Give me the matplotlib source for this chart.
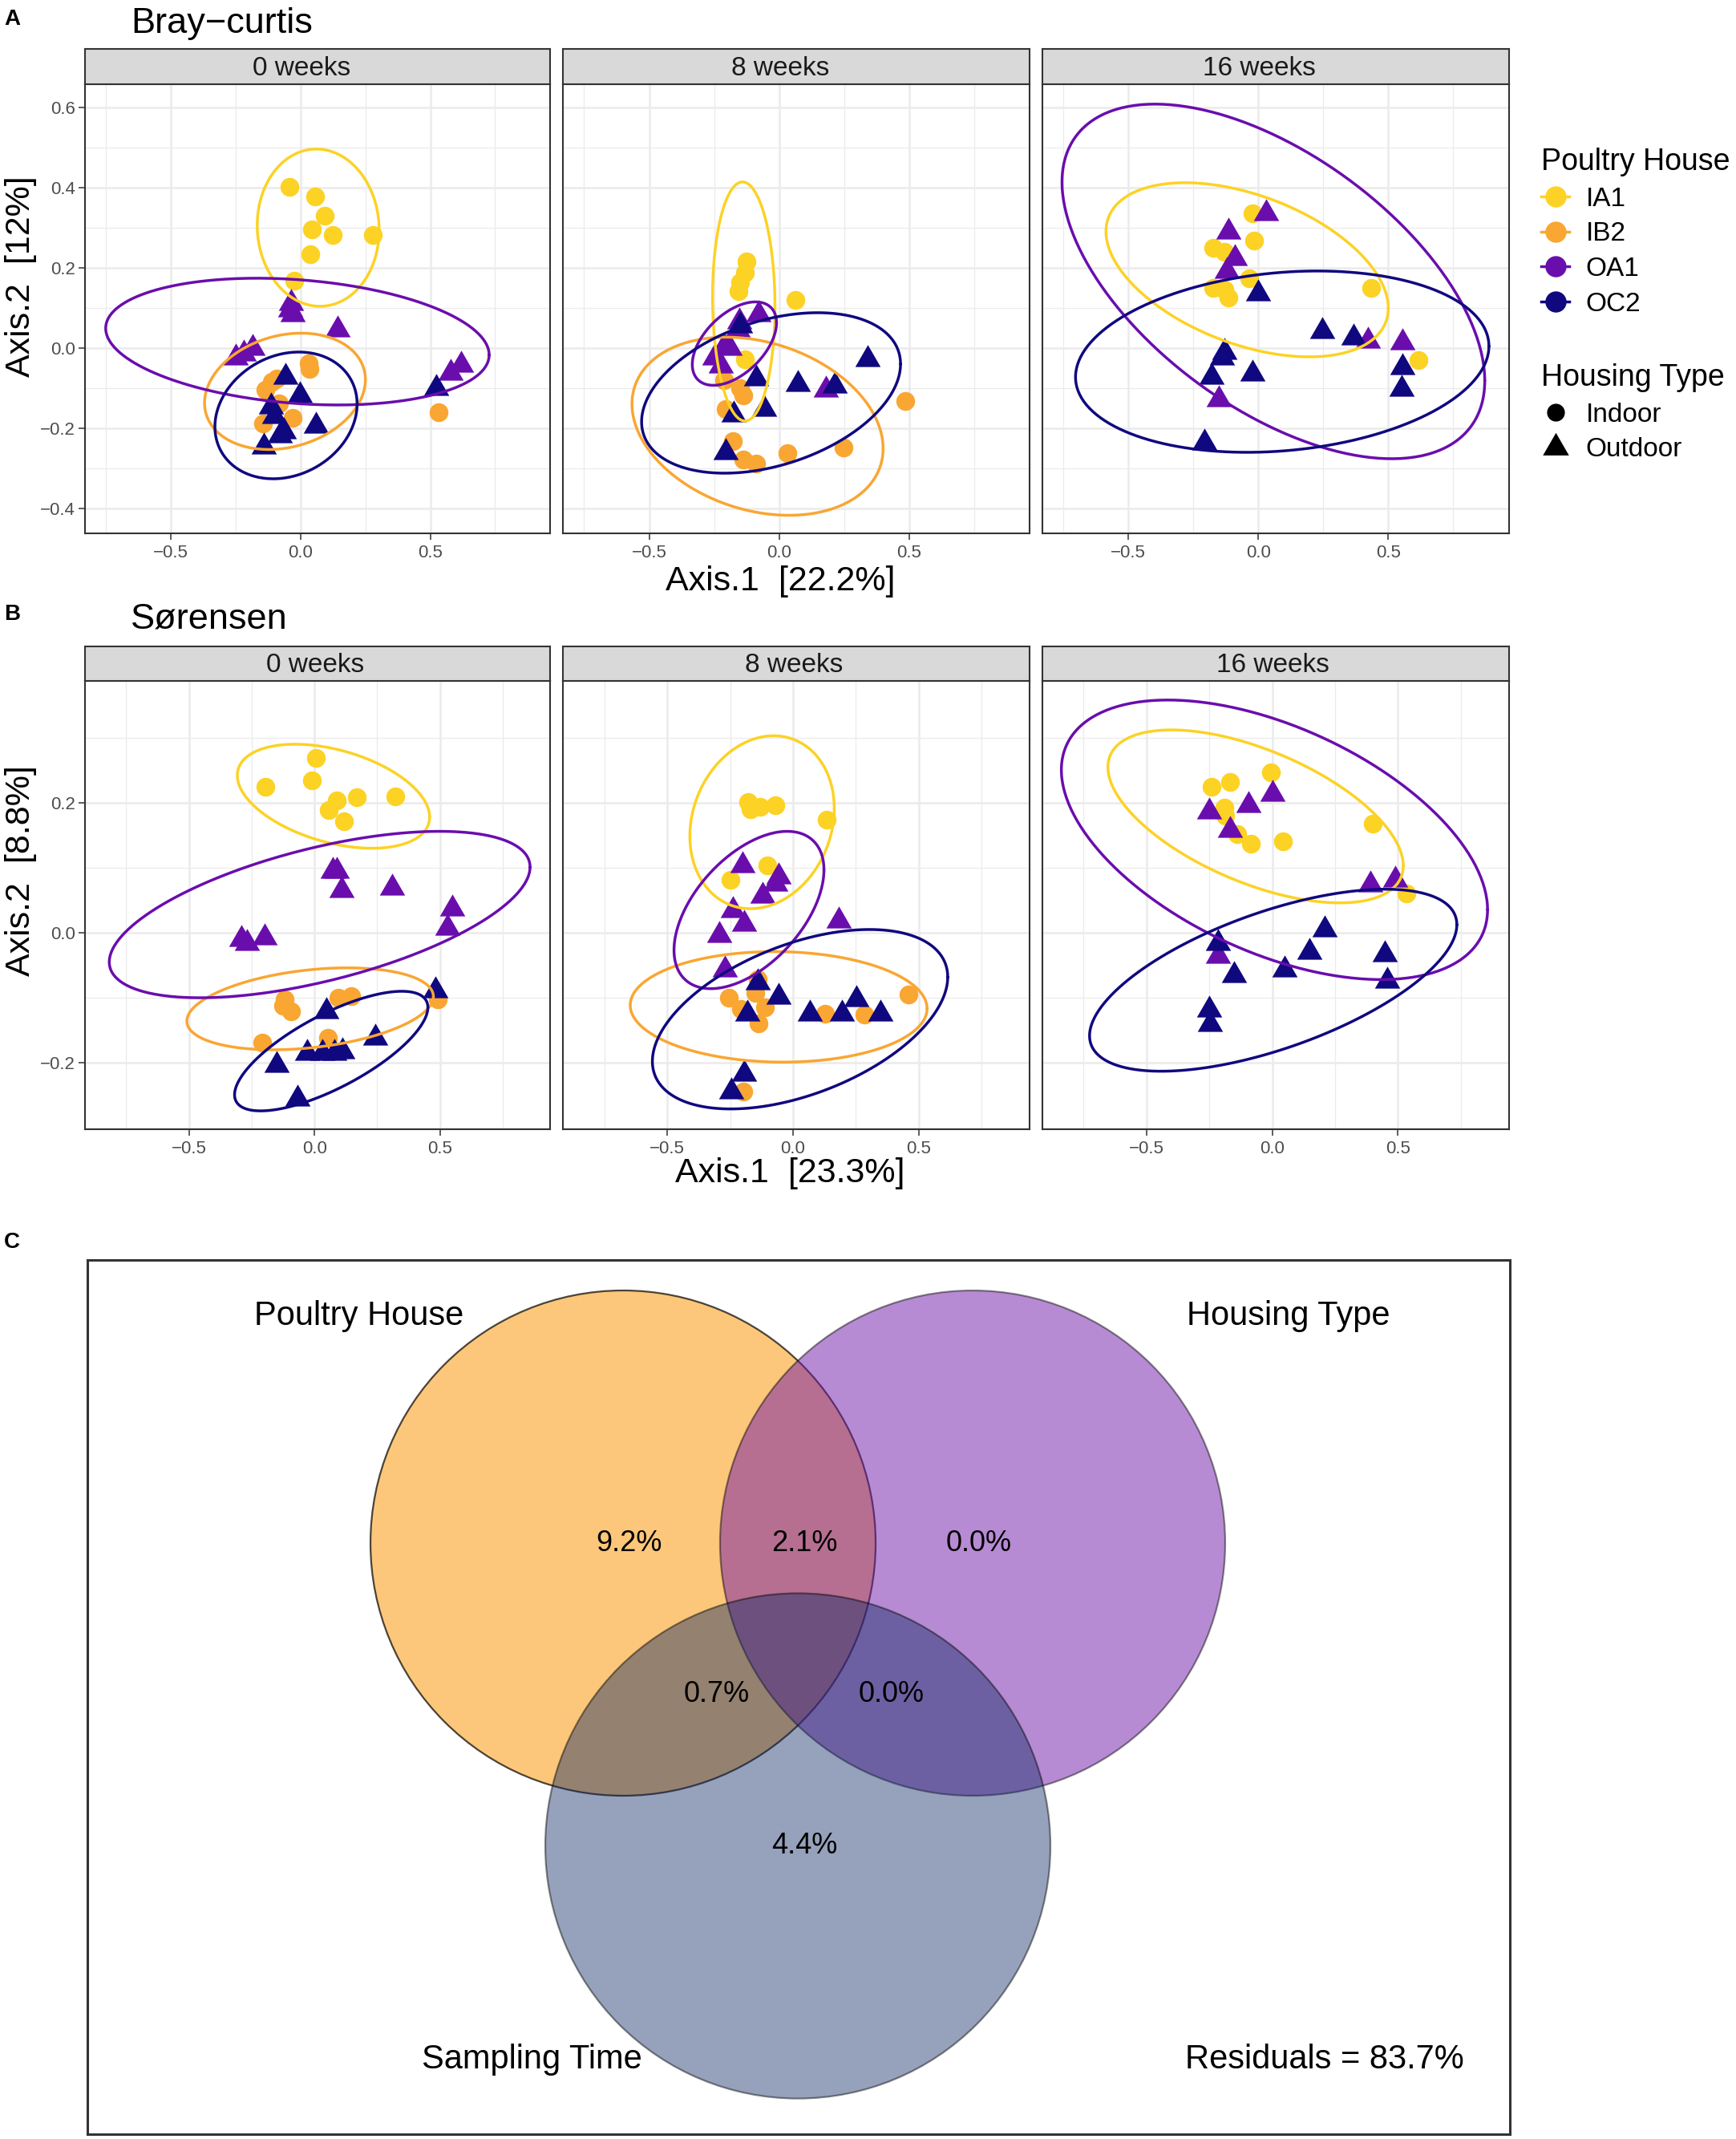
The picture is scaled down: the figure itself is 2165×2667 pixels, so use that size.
import numpy as np
import matplotlib
matplotlib.use('Agg')
import matplotlib.pyplot as plt
from matplotlib.lines import Line2D
from matplotlib.patches import Circle

plt.rcParams['font.family'] = ['Liberation Sans', 'DejaVu Sans']

W, H = 2165, 2667

houses = ['IA1', 'IB2', 'OA1', 'OC2']
house_colours = ['#FCD225', '#F9A632', '#6A0DAD', '#10087F']
indoor = ['IA1', 'IB2']
weeks = ['0 weeks', '8 weeks', '16 weeks']
housing_types = ['Indoor', 'Outdoor']

# ---- Bray-curtis PCoA scores (Axis.1, Axis.2) ----
bray_w0_IA1 = [(-0.044, 0.402), (0.055, 0.378), (0.093, 0.329), (0.045, 0.295),
               (0.123, 0.281), (0.278, 0.281), (0.038, 0.234), (-0.023, 0.167)]
bray_w0_IB2 = [(0.031, -0.039), (0.034, -0.053), (-0.093, -0.076), (-0.110, -0.085),
               (-0.136, -0.105), (-0.082, -0.138), (-0.030, -0.175), (-0.146, -0.188),
               (0.531, -0.161)]
bray_w0_OA1 = [(-0.037, 0.112), (-0.040, 0.095), (-0.030, 0.084), (0.144, 0.046),
               (-0.185, -0.001), (-0.220, -0.015), (-0.250, -0.025), (0.620, -0.043),
               (0.578, -0.062)]
bray_w0_OC2 = [(0.522, -0.100), (-0.058, -0.072), (-0.001, -0.119), (-0.115, -0.147),
               (-0.100, -0.171), (-0.065, -0.208), (-0.080, -0.218), (0.059, -0.194),
               (-0.143, -0.246)]

bray_w8_IA1 = [(-0.126, 0.216), (-0.132, 0.188), (-0.150, 0.164), (-0.156, 0.142),
               (0.064, 0.119), (-0.132, -0.029)]
bray_w8_IB2 = [(-0.211, -0.081), (-0.150, -0.100), (-0.138, -0.119), (-0.205, -0.152),
               (0.485, -0.133), (-0.177, -0.232), (-0.138, -0.279), (-0.089, -0.289),
               (0.033, -0.263), (0.247, -0.249)]
bray_w8_OA1 = [(-0.079, 0.084), (-0.153, 0.065), (-0.160, 0.045), (-0.211, 0.004),
               (-0.190, 0.000), (-0.248, -0.025), (-0.225, -0.045), (0.180, -0.105)]
bray_w8_OC2 = [(-0.150, 0.056), (-0.089, -0.076), (0.341, -0.029), (0.072, -0.091),
               (0.214, -0.095), (-0.059, -0.152), (-0.175, -0.166), (-0.205, -0.260)]

bray_w16_IA1 = [(-0.022, 0.336), (-0.017, 0.268), (-0.172, 0.249), (-0.129, 0.240),
                (-0.034, 0.174), (-0.172, 0.150), (-0.129, 0.145), (-0.116, 0.126),
                (0.434, 0.150), (0.616, -0.031)]
bray_w16_OA1 = [(0.029, 0.336), (-0.116, 0.290), (-0.091, 0.223), (-0.121, 0.192),
                (0.422, 0.018), (0.555, 0.013), (-0.152, -0.128)]
bray_w16_OC2 = [(0.000, 0.136), (0.247, 0.042), (0.366, 0.025), (-0.129, -0.010),
                (-0.141, -0.025), (-0.181, -0.072), (-0.021, -0.065), (0.555, -0.048),
                (0.552, -0.103), (-0.207, -0.237)]

# ---- Sorensen PCoA scores ----
sor_w0_IA1 = [(0.006, 0.269), (-0.194, 0.225), (-0.011, 0.235), (0.088, 0.204),
              (0.057, 0.189), (0.117, 0.172), (0.170, 0.208), (0.321, 0.210)]
sor_w0_IB2 = [(-0.118, -0.103), (-0.126, -0.112), (-0.094, -0.121), (0.096, -0.100),
              (0.146, -0.098), (0.491, -0.103), (0.053, -0.162), (-0.208, -0.169)]
sor_w0_OA1 = [(0.074, 0.095), (0.090, 0.095), (0.107, 0.066), (0.310, 0.069),
              (0.548, 0.037), (0.531, 0.008), (-0.290, -0.010), (-0.268, -0.016),
              (-0.197, -0.007)]
sor_w0_OC2 = [(0.481, -0.089), (0.049, -0.121), (-0.029, -0.185), (0.031, -0.185),
              (0.081, -0.185), (0.110, -0.182), (0.243, -0.162), (-0.151, -0.203),
              (-0.068, -0.255)]

sor_w8_IA1 = [(-0.177, 0.201), (-0.170, 0.190), (-0.132, 0.194), (-0.069, 0.196),
              (0.135, 0.174), (-0.101, 0.104), (-0.248, 0.082)]
sor_w8_IB2 = [(-0.139, -0.071), (-0.151, -0.092), (-0.254, -0.100), (-0.208, -0.117),
              (-0.110, -0.115), (-0.136, -0.140), (0.126, -0.124), (0.284, -0.126),
              (0.460, -0.095), (-0.198, -0.244)]
sor_w8_OA1 = [(-0.202, 0.104), (-0.057, 0.086), (-0.069, 0.075), (-0.122, 0.057),
              (-0.240, 0.034), (-0.195, 0.013), (-0.294, -0.004), (0.183, 0.019),
              (-0.271, -0.057)]
sor_w8_OC2 = [(-0.139, -0.077), (-0.057, -0.099), (-0.181, -0.124), (0.067, -0.124),
              (0.195, -0.124), (0.252, -0.103), (0.347, -0.124), (-0.195, -0.217),
              (-0.246, -0.244)]

sor_w16_IA1 = [(-0.242, 0.225), (-0.169, 0.232), (-0.006, 0.247), (-0.191, 0.193),
               (-0.188, 0.180), (-0.138, 0.152), (-0.084, 0.137), (0.044, 0.141),
               (0.399, 0.168), (0.533, 0.061)]
sor_w16_OA1 = [(-0.251, 0.186), (-0.094, 0.196), (0.000, 0.214), (-0.166, 0.158),
               (0.389, 0.074), (0.489, 0.081), (-0.216, -0.036)]
sor_w16_OC2 = [(-0.216, -0.016), (-0.151, -0.065), (0.048, -0.057), (0.148, -0.030),
               (0.207, 0.005), (0.449, -0.033), (0.456, -0.074), (-0.251, -0.118),
               (-0.248, -0.141)]

# 95% ellipses per house: centre x, centre y, half-width, half-height, correlation
bray_w0_ell = {'IA1': (0.068, 0.300, 0.235, 0.196, -0.03), 'IB2': (-0.060, -0.108, 0.310, 0.145, 0.20),
               'OA1': (-0.012, 0.016, 0.739, 0.158, -0.21), 'OC2': (-0.056, -0.168, 0.274, 0.158, 0.18)}
bray_w8_ell = {'IA1': (-0.136, 0.116, 0.120, 0.298, -0.04), 'IB2': (-0.083, -0.195, 0.483, 0.222, -0.25),
               'OA1': (-0.172, 0.011, 0.162, 0.104, 0.50), 'OC2': (-0.031, -0.112, 0.498, 0.200, 0.36)}
bray_w16_ell = {'IA1': (-0.043, 0.195, 0.543, 0.217, -0.44), 'OA1': (0.058, 0.166, 0.813, 0.442, -0.56),
                'OC2': (0.092, -0.034, 0.795, 0.226, 0.17)}
sor_w0_ell = {'IA1': (0.076, 0.210, 0.383, 0.080, -0.40), 'IB2': (-0.017, -0.117, 0.491, 0.063, 0.30),
              'OA1': (0.021, 0.028, 0.838, 0.128, 0.57), 'OC2': (0.067, -0.182, 0.385, 0.092, 0.73)}
sor_w8_ell = {'IA1': (-0.123, 0.170, 0.287, 0.133, 0.16), 'IB2': (-0.057, -0.114, 0.590, 0.085, -0.03),
              'OA1': (-0.175, 0.035, 0.298, 0.121, 0.51), 'OC2': (0.028, -0.133, 0.587, 0.138, 0.47)}
sor_w16_ell = {'IA1': (-0.066, 0.179, 0.587, 0.133, -0.57), 'OA1': (0.009, 0.143, 0.847, 0.215, -0.50),
               'OC2': (0.004, -0.073, 0.730, 0.140, 0.61)}

bray_var = [22.2, 12]
sor_var = [23.3, 8.8]

# ---- variation partitioning (panel C) ----
venn_sets = ['Poultry House', 'Housing Type', 'Sampling Time']
venn_unique = [9.2, 0.0, 4.4]
venn_pairs = [(0, 1), (0, 2), (1, 2)]
venn_pair_values = [2.1, 0.7, 0.0]
venn_residual = 83.7
venn_colours = ['#FAA321', '#7119A9', '#102964']
venn_alpha = [0.6, 0.5, 0.44]


def box(x0, y0, x1, y1):
    return [x0 / W, 1 - y1 / H, (x1 - x0) / W, (y1 - y0) / H]


def ellipse_xy(cx, cy, rx, ry, rho, n=300):
    t = np.linspace(0, 2 * np.pi, n)
    x = cx + rx * np.cos(t)
    y = cy + ry * (rho * np.cos(t) + np.sqrt(1 - rho ** 2) * np.sin(t))
    return x, y


TRIANGLE = [(-0.5, -0.2887), (0.5, -0.2887), (0.0, 0.5774)]


def draw_panel(ax, points, ellipses, xlim, ylim, ymajor, yminor, first):
    for house, col in zip(houses, house_colours):
        if house not in points:
            continue
        xy = np.array(points[house])
        if house in indoor:
            ax.scatter(xy[:, 0], xy[:, 1], s=285, marker='o', color=col,
                       linewidths=0, zorder=3)
        else:
            ax.scatter(xy[:, 0], xy[:, 1], s=690, marker=TRIANGLE, color=col,
                       linewidths=0, zorder=3)
    for house, col in zip(houses, house_colours):
        if house in ellipses:
            ex, ey = ellipse_xy(*ellipses[house])
            ax.plot(ex, ey, color=col, lw=2.5, zorder=4, solid_capstyle='round')
    ax.set_xlim(xlim)
    ax.set_ylim(ylim)
    ax.set_xticks([-0.5, 0.0, 0.5])
    ax.set_xticks([-0.75, -0.25, 0.25, 0.75], minor=True)
    ax.set_yticks(ymajor)
    ax.set_yticks(yminor, minor=True)
    ax.grid(which='major', color='#EBEBEB', lw=1.8)
    ax.grid(which='minor', color='#EBEBEB', lw=0.9)
    ax.set_axisbelow(True)
    ax.tick_params(which='major', length=5.5, width=1.1, color='#333333',
                   labelsize=16, labelcolor='#4D4D4D', pad=3)
    ax.tick_params(axis='x', which='major', pad=5)
    ax.tick_params(which='minor', length=0)
    if not first:
        ax.tick_params(left=False, labelleft=False)
    for sp in ax.spines.values():
        sp.set_color('#333333')
        sp.set_linewidth(1.5)


def draw_strip(x0, x1, y0, y1, label, shift):
    sax = fig.add_axes(box(x0, y0, x1, y1))
    sax.set_facecolor('#D9D9D9')
    sax.set_xticks([])
    sax.set_yticks([])
    for sp in sax.spines.values():
        sp.set_color('#333333')
        sp.set_linewidth(1.5)
    sax.text(0.5 + shift / (x1 - x0), 0.45, label, transform=sax.transAxes,
             ha='center', va='center', fontsize=24, color='#1A1A1A')


fig = plt.figure(figsize=(W / 100, H / 100), dpi=100)

col_x = [(105.6, 686.4), (701.9, 1283.9), (1299.5, 1881.5)]
rows = [
    dict(tag='A', title='Bray\u2212curtis', strip=(61.3, 104.8), panel=(104.8, 664.5),
         data=[dict(IA1=bray_w0_IA1, IB2=bray_w0_IB2, OA1=bray_w0_OA1, OC2=bray_w0_OC2),
               dict(IA1=bray_w8_IA1, IB2=bray_w8_IB2, OA1=bray_w8_OA1, OC2=bray_w8_OC2),
               dict(IA1=bray_w16_IA1, OA1=bray_w16_OA1, OC2=bray_w16_OC2)],
         ell=[bray_w0_ell, bray_w8_ell, bray_w16_ell],
         xlim=(-0.832, 0.963), ylim=(-0.461, 0.658),
         ymajor=[-0.4, -0.2, 0.0, 0.2, 0.4, 0.6], yminor=[-0.3, -0.1, 0.1, 0.3, 0.5],
         var=bray_var, tag_y=30.7, title_y=41.5, xlab_y=725, xlab_x=973, ylab_y=344.5,
         strip_shift=-20),
    dict(tag='B', title='S\u00f8rensen', strip=(806.0, 848.5), panel=(848.5, 1407.8),
         data=[dict(IA1=sor_w0_IA1, IB2=sor_w0_IB2, OA1=sor_w0_OA1, OC2=sor_w0_OC2),
               dict(IA1=sor_w8_IA1, IB2=sor_w8_IB2, OA1=sor_w8_OA1, OC2=sor_w8_OC2),
               dict(IA1=sor_w16_IA1, OA1=sor_w16_OA1, OC2=sor_w16_OC2)],
         ell=[sor_w0_ell, sor_w8_ell, sor_w16_ell],
         xlim=(-0.915, 0.940), ylim=(-0.302, 0.388),
         ymajor=[-0.2, 0.0, 0.2], yminor=[-0.3, -0.1, 0.1, 0.3],
         var=sor_var, tag_y=773, title_y=783.4, xlab_y=1463, xlab_x=985, ylab_y=1085.7,
         strip_shift=-3),
]

for row in rows:
    for i, (x0, x1) in enumerate(col_x):
        ax = fig.add_axes(box(x0, row['panel'][0], x1, row['panel'][1]))
        draw_panel(ax, row['data'][i], row['ell'][i], row['xlim'], row['ylim'],
                   row['ymajor'], row['yminor'], i == 0)
        draw_strip(x0, x1, row['strip'][0], row['strip'][1], weeks[i], row['strip_shift'])
    fig.text(5 / W, 1 - row['tag_y'] / H, row['tag'], fontsize=20, weight='bold',
             ha='left', va='baseline')
    fig.text(163 / W, 1 - row['title_y'] / H, row['title'], fontsize=32.5,
             ha='left', va='baseline')
    fig.text(row['xlab_x'] / W, 1 - row['xlab_y'] / H,
             'Axis.1  [%.1f%%]' % row['var'][0], fontsize=31, ha='center', va='center')
    fig.text(26 / W, 1 - row['ylab_y'] / H, 'Axis.2  [%g%%]' % row['var'][1],
             fontsize=31, ha='center', va='center', rotation=90)

# legends
h_house = [Line2D([0], [0], color=c, lw=2.5, marker='o', markersize=19,
                  markeredgewidth=0) for c in house_colours]
leg1 = fig.legend(h_house, houses, title='Poultry House', loc='upper left',
                  bbox_to_anchor=(1922 / W, 1 - 184 / H), frameon=False,
                  fontsize=24, title_fontsize=27, handlelength=1.05,
                  handletextpad=0.62, labelspacing=0.38, borderpad=0,
                  borderaxespad=0, alignment='left')
h_type = [Line2D([0], [0], color='black', lw=0, marker='o', markersize=16,
                 markeredgewidth=0),
          Line2D([0], [0], color='black', lw=0, marker=TRIANGLE, markersize=27,
                 markeredgewidth=0)]
leg2 = fig.legend(h_type, housing_types, title='Housing Type', loc='upper left',
                  bbox_to_anchor=(1922 / W, 1 - 453 / H), frameon=False,
                  fontsize=24, title_fontsize=27, handlelength=1.05,
                  handletextpad=0.62, labelspacing=0.38, borderpad=0,
                  borderaxespad=0, alignment='left')

# panel C: variation partitioning venn
vax = fig.add_axes(box(108.7, 1570.8, 1882.6, 2661.0))
vax.set_xlim(-2.8137, 2.8178)
vax.set_ylim(-2.3397, 1.1213)
vax.set_xticks([])
vax.set_yticks([])
for sp in vax.spines.values():
    sp.set_color('#333333')
    sp.set_linewidth(2.2)

venn_sep = 1.384
centres = np.array([[-venn_sep / 2, 0.0], [venn_sep / 2, 0.0],
                    [0.0, -venn_sep * np.sqrt(3) / 2]])
edge_alpha = [0.7, 0.45, 0.45]
for (cx, cy), col, a, ea in zip(centres, venn_colours, venn_alpha, edge_alpha):
    vax.add_patch(Circle((cx, cy), 1.0, facecolor=col, alpha=a, lw=0))
    vax.add_patch(Circle((cx, cy), 1.0, fill=False, edgecolor=(0, 0, 0, ea), lw=1.6))

nudge = 0.025
for (cx, cy), v in zip(centres, venn_unique):
    vax.text(cx + nudge, cy, '%.1f%%' % v, fontsize=26, ha='center', va='center')
for (i, j), v in zip(venn_pairs, venn_pair_values):
    mx, my = (centres[i] + centres[j]) / 2
    vax.text(mx + nudge, my, '%.1f%%' % v, fontsize=26, ha='center', va='center')

vax.text(0.191, 0.9356, venn_sets[0], transform=vax.transAxes, fontsize=30,
         ha='center', va='center')
vax.text(0.8446, 0.9356, venn_sets[1], transform=vax.transAxes, fontsize=30,
         ha='center', va='center')
vax.text(0.3125, 0.0853, venn_sets[2], transform=vax.transAxes, fontsize=30,
         ha='center', va='center')
vax.text(0.870, 0.0853, 'Residuals = %.1f%%' % venn_residual, transform=vax.transAxes,
         fontsize=30, ha='center', va='center')

fig.text(5 / W, 1 - 1556 / H, 'C', fontsize=20, weight='bold', ha='left', va='baseline')

fig.savefig('out.png', dpi=100, facecolor='white')
